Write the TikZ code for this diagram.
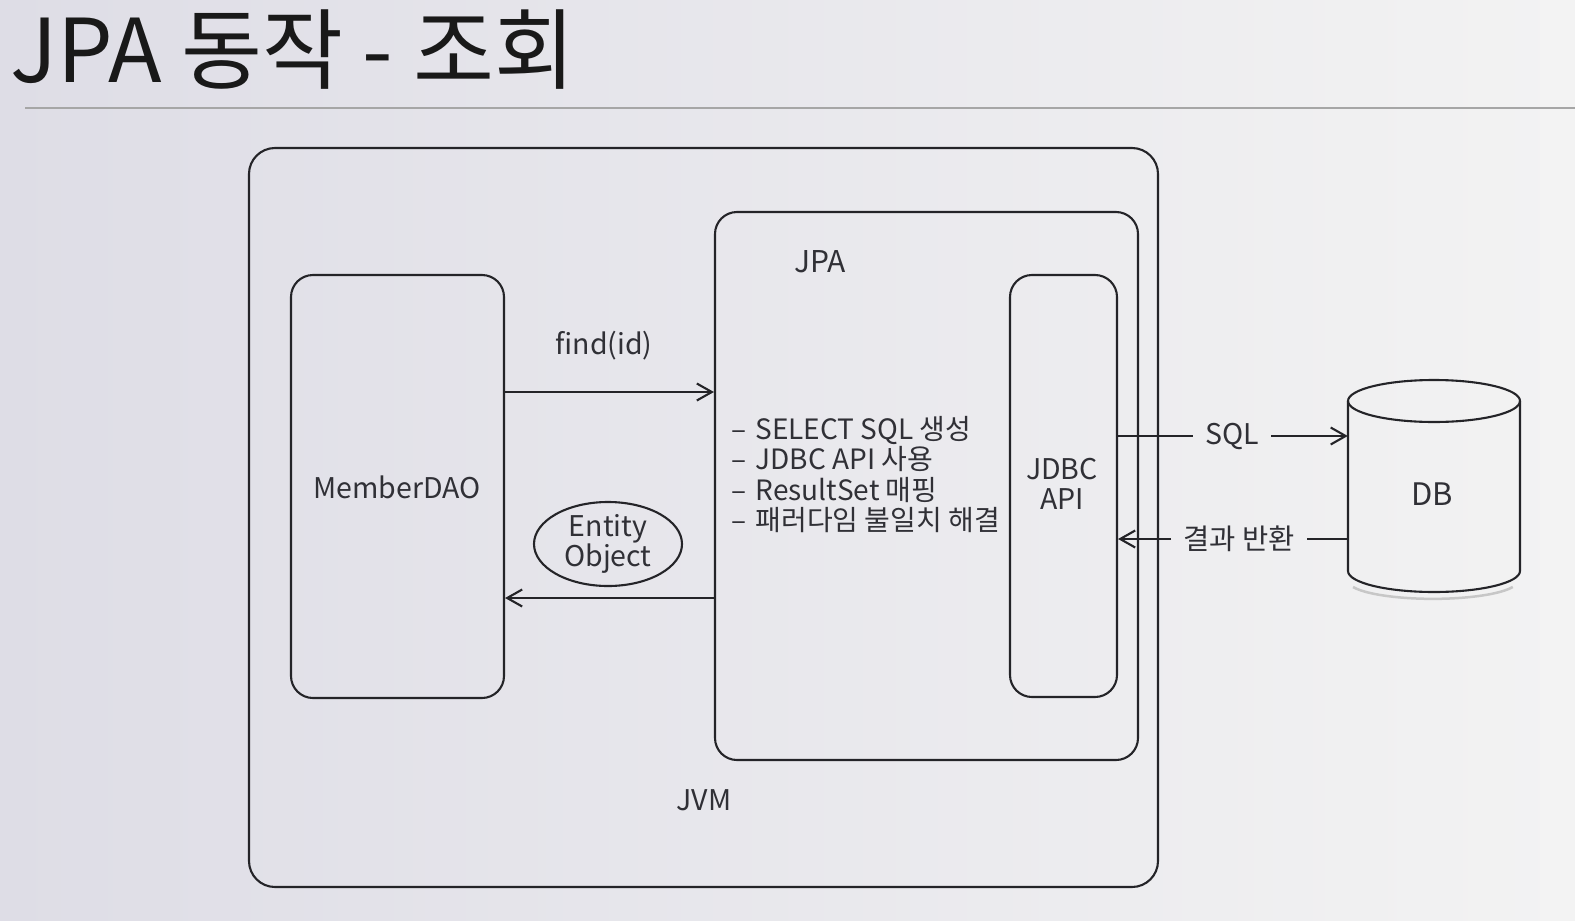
\documentclass[tikz,border=0pt]{standalone}
\usepackage{fontspec}
\setmainfont{Noto Sans CJK KR}
\usetikzlibrary{arrows.meta,shapes.geometric}
\definecolor{ink}{RGB}{36,36,40}
\definecolor{txt}{RGB}{48,48,54}
\definecolor{bgl}{RGB}{222,221,230}
\definecolor{bgr}{RGB}{243,243,243}
\tikzset{
  box/.style={draw=ink, line width=2.1pt, rounded corners=22pt, inner sep=0pt},
  lbl/.style={text=txt, font=\fontsize{28.5}{30}\selectfont, inner sep=0pt},
  item/.style={lbl, anchor=base west, font=\fontsize{28}{30}\selectfont},
  conn/.style={draw=ink, line width=2.1pt},
  arr/.style={conn, -{Straight Barb[length=15pt,width=17pt,line width=2.1pt]}},
}
\begin{document}
\begin{tikzpicture}[x=1pt,y=-1pt]
\useasboundingbox (0,0) rectangle (1575,921);
\shade[left color=bgl, right color=bgr] (0,0) rectangle (1575,921);
% title
\node[anchor=base west, text=black!90, inner sep=0pt, font=\fontsize{88}{90}\selectfont] (title) at (10,82) {JPA 동작 - 조회};
\draw[gray!70, line width=1.2pt] (25,108) coordinate (rl) -- (1575,108) coordinate (rr);
% boxes
\node[box, rounded corners=26pt, minimum width=909pt, minimum height=739pt] (jvm) at (703.5,517.5) {};
\node[box, minimum width=213pt, minimum height=423pt] (dao) at (397.5,486.5) {};
\node[box, minimum width=423pt, minimum height=548pt] (jpa) at (926.5,486) {};
\node[box, minimum width=107pt, minimum height=422pt] (jdbc) at (1063.5,486) {};
% labels
\node[lbl] (jvmt) at (704,800) {JVM};
\node[lbl] (daot) at (397,487) {MemberDAO};
\node[lbl, font=\fontsize{30}{30}\selectfont] (jpat) at (820,262) {JPA};
\node[lbl, align=center] (jdbct) at (1062,484) {JDBC\\API};
\node[item] (l1) at (731,439) {–\,\,SELECT SQL 생성};
\node[item] (l2) at (731,469.5) {–\,\,JDBC API 사용};
\node[item] (l3) at (731,500) {–\,\,ResultSet 매핑};
\node[item] (l4) at (731,530.5) {–\,\,패러다임 불일치 해결};
% find arrow
\coordinate (fy) at (0,392);
\node[lbl] (find) at (604,346) {find(id)};
\draw[arr] (dao.east |- fy) -- (jpa.west |- fy);
% entity
\node[draw=ink, line width=2.1pt, ellipse, minimum width=148pt, minimum height=84pt, inner sep=0pt, text=txt, align=center, font=\fontsize{28.5}{30}\selectfont] (ent) at (608,544) {Entity\\Object};
\coordinate (ry) at (0,598);
\draw[arr] (jpa.west |- ry) -- (dao.east |- ry);
% DB cylinder
\draw[black!22, line width=2.5pt] (1353,587) arc[start angle=160, end angle=20, x radius=85, y radius=18];
\draw[ink, line width=2.1pt] (1348,401) -- (1348,571) arc[start angle=180, end angle=0, x radius=86, y radius=21] -- (1520,401);
\draw[ink, line width=2.1pt] (1434,401) ellipse [x radius=86, y radius=21];
\node[inner sep=0pt, minimum width=172pt, minimum height=10pt] (db) at (1434,494) {};
\node[lbl, font=\fontsize{31}{30}\selectfont] (dbt) at (1432,494) {DB};
% SQL
\node[lbl, inner sep=12pt] (sql) at (1232,436) {SQL};
\draw[conn] (jdbc.east |- sql) -- (sql.west);
\draw[arr] (sql.east) -- (db.west |- sql);
% result
\node[lbl, inner sep=12pt] (res) at (1239,539) {결과 반환};
\draw[conn] (db.west |- res) -- (res.east);
\draw[arr] (res.west) -- (jdbc.east |- res);
\end{tikzpicture}
\end{document}
